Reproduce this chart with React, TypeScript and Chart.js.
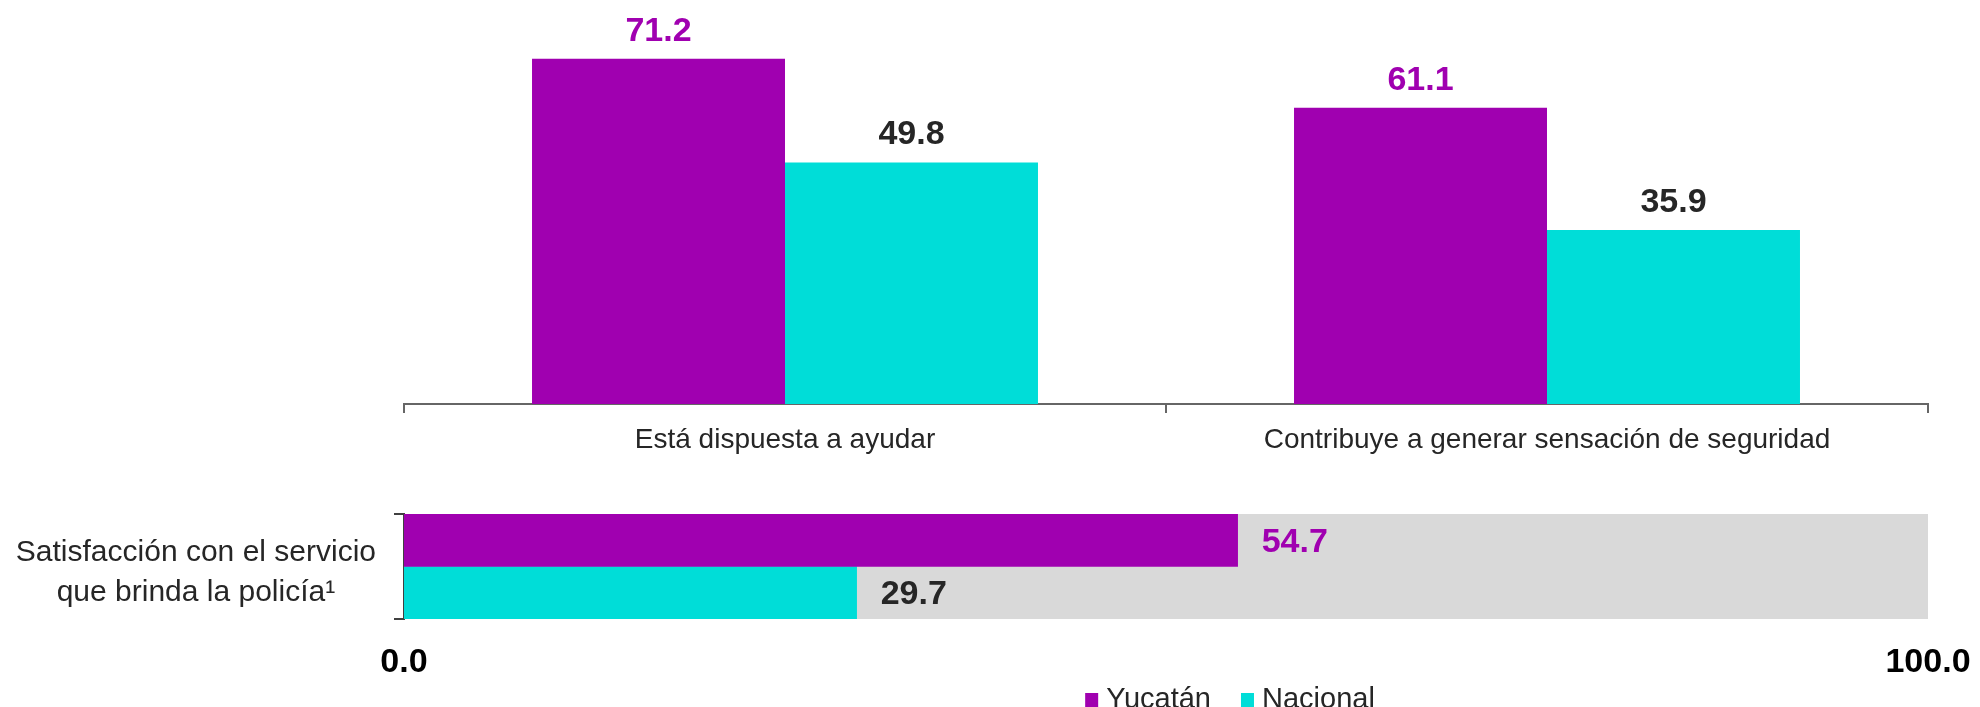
import React, { useEffect, useRef } from "react";
import { Chart, registerables } from "chart.js";

Chart.register(...registerables);

// ---- data ----
const categories = ["Está dispuesta a ayudar", "Contribuye a generar sensación de seguridad"];
const seriesNames = ["Yucatán", "Nacional"];
const yucatanValues = [71.2, 61.1];
const nacionalValues = [49.8, 35.9];

const satisfLabel = ["Satisfacción con el servicio", "que brinda la policía¹"];
const yucatanSatisf = [54.7];
const nacionalSatisf = [29.7];
const satisfMax = [100];
const satisfTicks = [0, 100];

// ---- styles ----
const PURPLE = "#A000B0";
const CYAN = "#00DDD8";
const GRAY = "#D9D9D9";
const DARK = "#262626";
const FONT = "'Liberation Sans', Arial, Helvetica, sans-serif";

const topLabels = {
  id: "topLabels",
  afterDatasetsDraw(chart: any) {
    const ctx = chart.ctx;
    ctx.save();
    ctx.font = `bold 34px ${FONT}`;
    ctx.textAlign = "center";
    ctx.textBaseline = "alphabetic";
    chart.data.datasets.forEach((ds: any, di: number) => {
      const meta = chart.getDatasetMeta(di);
      ctx.fillStyle = di === 0 ? PURPLE : DARK;
      meta.data.forEach((bar: any, i: number) => {
        ctx.fillText(Number(ds.data[i]).toFixed(1), bar.x, bar.y - 18);
      });
    });
    ctx.restore();
  },
};

const sideLabels = {
  id: "sideLabels",
  afterDatasetsDraw(chart: any) {
    const ctx = chart.ctx;
    ctx.save();
    ctx.font = `bold 34px ${FONT}`;
    ctx.textAlign = "left";
    ctx.textBaseline = "middle";
    [0, 1].forEach((di) => {
      const ds = chart.data.datasets[di];
      const meta = chart.getDatasetMeta(di);
      ctx.fillStyle = di === 0 ? PURPLE : DARK;
      meta.data.forEach((bar: any, i: number) => {
        ctx.fillText(Number(ds.data[i]).toFixed(1), bar.x + 24, bar.y + 2);
      });
    });
    ctx.restore();
  },
};

const customLegend = {
  id: "customLegend",
  afterDraw(chart: any) {
    const ctx = chart.ctx;
    ctx.save();
    ctx.font = `29px ${FONT}`;
    ctx.textBaseline = "alphabetic";
    const items = [0, 1].map((di) => ({
      text: chart.data.datasets[di].label,
      color: chart.data.datasets[di].backgroundColor,
    }));
    const box = 13;
    const gap = 8;
    const itemGap = 30;
    const widths = items.map((it) => box + gap + ctx.measureText(it.text).width);
    const total = widths.reduce((a, b) => a + b, 0) + itemGap * (items.length - 1);
    let x = 1230 - total / 2;
    const baseline = chart.height + 1;
    items.forEach((it, i) => {
      ctx.fillStyle = it.color;
      ctx.fillRect(x, baseline - 15, box, 15);
      ctx.fillStyle = DARK;
      ctx.textAlign = "left";
      ctx.fillText(it.text, x + box + gap, baseline);
      x += widths[i] + itemGap;
    });
    ctx.restore();
  },
};

export default function App() {
  const topRef = useRef<HTMLCanvasElement>(null);
  const botRef = useRef<HTMLCanvasElement>(null);

  useEffect(() => {
    document.body.style.margin = "0";
    Chart.defaults.font.family = FONT;

    const c1 = new Chart(topRef.current!, {
      type: "bar",
      data: {
        labels: categories,
        datasets: [
          { label: seriesNames[0], data: yucatanValues, backgroundColor: PURPLE, categoryPercentage: 0.664, barPercentage: 1 },
          { label: seriesNames[1], data: nacionalValues, backgroundColor: CYAN, categoryPercentage: 0.664, barPercentage: 1 },
        ],
      },
      options: {
        animation: false,
        responsive: false,
        layout: { padding: { left: 404, right: 52, top: 16, bottom: 0 } },
        plugins: { legend: { display: false }, tooltip: { enabled: false } },
        scales: {
          x: {
            grid: { offset: true, drawOnChartArea: false, drawTicks: true, tickLength: 9, color: "#666666", lineWidth: 2 },
            border: { display: true, color: "#666666", width: 2 },
            ticks: { font: { size: 28, family: FONT }, color: DARK, padding: 10, maxRotation: 0, autoSkip: false },
            afterFit: (s: any) => {
              s.height = 66;
              s.paddingLeft = 0;
              s.paddingRight = 0;
            },
          },
          y: { display: false, min: 0, max: 80 },
        },
      } as any,
      plugins: [topLabels],
    });

    const c2 = new Chart(botRef.current!, {
      type: "bar",
      data: {
        labels: [satisfLabel],
        datasets: [
          { label: seriesNames[0], data: yucatanSatisf, backgroundColor: PURPLE, categoryPercentage: 1, barPercentage: 1, order: 0 },
          { label: seriesNames[1], data: nacionalSatisf, backgroundColor: CYAN, categoryPercentage: 1, barPercentage: 1, order: 0 },
          { label: "", data: satisfMax, backgroundColor: GRAY, grouped: false, categoryPercentage: 1, barPercentage: 1, order: 1 },
        ] as any,
      },
      options: {
        indexAxis: "y",
        animation: false,
        responsive: false,
        layout: { padding: { left: 0, right: 52, top: 44, bottom: 0 } },
        plugins: { legend: { display: false }, tooltip: { enabled: false } },
        scales: {
          y: {
            grid: { offset: true, drawOnChartArea: false, drawTicks: true, tickLength: 10, color: "#404040", lineWidth: 2 },
            border: { display: true, color: "#404040", width: 2 },
            ticks: { crossAlign: "center", padding: 18, labelOffset: 6, font: { size: 30, family: FONT, lineHeight: 1.33 }, color: DARK },
            afterFit: (s: any) => {
              s.width = 404;
              s.paddingTop = 0;
              s.paddingBottom = 0;
            },
          },
          x: {
            min: satisfTicks[0],
            max: satisfTicks[satisfTicks.length - 1],
            grid: { display: false },
            border: { display: false },
            ticks: {
              stepSize: satisfTicks[1] - satisfTicks[0],
              callback: (v: any) => Number(v).toFixed(1),
              font: { size: 34, weight: "bold", family: FONT },
              color: "#000000",
              padding: 15,
              maxRotation: 0,
            },
            afterFit: (s: any) => {
              s.height = 88;
              s.paddingLeft = 0;
              s.paddingRight = 0;
            },
          },
        },
      } as any,
      plugins: [sideLabels, customLegend],
    });

    return () => {
      c1.destroy();
      c2.destroy();
    };
  }, []);

  return (
    <div style={{ position: "relative", width: 1980, height: 707, overflow: "hidden", background: "#FFFFFF" }}>
      <canvas ref={topRef} width={1980} height={470} style={{ position: "absolute", left: 0, top: 0, width: 1980, height: 470 }} />
      <canvas ref={botRef} width={1980} height={237} style={{ position: "absolute", left: 0, top: 470, width: 1980, height: 237 }} />
    </div>
  );
}
